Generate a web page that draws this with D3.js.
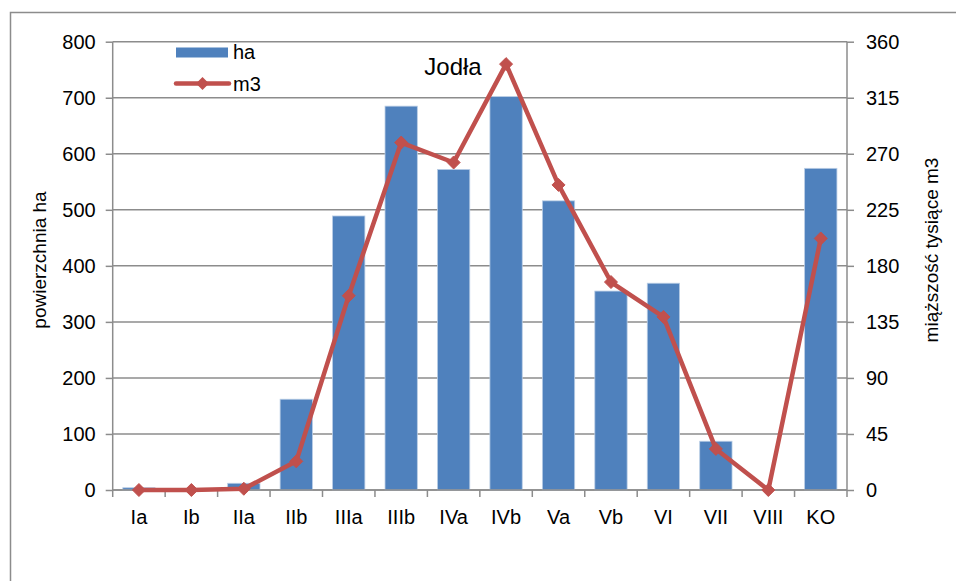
<!DOCTYPE html>
<html>
<head>
<meta charset="utf-8">
<script src="https://cdn.jsdelivr.net/npm/d3@7"></script>
<style>
  body { margin: 0; background: #fff; }
  text { font-family: "Liberation Sans", Arial, sans-serif; fill: #000; }
</style>
</head>
<body>
<div id="chart"></div>
<script>
// categories (age classes) and the two series
var categories = ["Ia", "Ib", "IIa", "IIb", "IIIa", "IIIb", "IVa", "IVb", "Va", "Vb", "VI", "VII", "VIII", "KO"];
var haValues = [4, 0, 12, 162, 489, 685, 572, 702, 516, 355, 369, 87, 0, 574];
var m3Values = [0, 0, 1, 23, 156, 279, 263, 342, 245, 167, 139, 33, 0, 202];
var leftTicks = [0, 100, 200, 300, 400, 500, 600, 700, 800];
var rightTicks = [0, 45, 90, 135, 180, 225, 270, 315, 360];

var W = 956, H = 581;
var margin = {top: 41.7, right: 109, bottom: 91, left: 112.7};
var width = W - margin.left - margin.right,
    height = H - margin.top - margin.bottom;

var svg = d3.select("#chart").append("svg")
  .attr("width", W).attr("height", H);

// outer chart frame
svg.append("rect")
  .attr("x", 10.5).attr("y", 12.5)
  .attr("width", W + 20).attr("height", H + 20)
  .attr("fill", "none").attr("stroke", "#8c8c8c").attr("stroke-width", 1.5);

var g = svg.append("g")
  .attr("transform", "translate(" + margin.left + "," + margin.top + ")");

var x = d3.scaleBand().domain(categories).range([0, width]).paddingInner(0.384).paddingOuter(0.192);
var xEdge = d3.scaleLinear().domain([0, categories.length]).range([0, width]);
var y = d3.scaleLinear().domain([0, 800]).range([height, 0]);
var y2 = d3.scaleLinear().domain([0, 360]).range([height, 0]);

// gridlines
g.selectAll(".grid").data(leftTicks).enter().append("line")
  .attr("x1", 0).attr("x2", width)
  .attr("y1", function(d) { return y(d); })
  .attr("y2", function(d) { return y(d); })
  .attr("stroke", "#8c8c8c").attr("stroke-width", 1.5);

// bars
g.selectAll(".bar").data(haValues).enter().append("rect")
  .attr("x", function(d, i) { return x(categories[i]); })
  .attr("width", x.bandwidth())
  .attr("y", function(d) { return y(d); })
  .attr("height", function(d) { return height - y(d); })
  .attr("fill", "#4f81bd")
  .attr("stroke", "#b9cde5").attr("stroke-width", 0.8);

// left axis
var yAxis = d3.axisLeft(y).tickValues(leftTicks).tickSize(7).tickPadding(10);
var ya = g.append("g").call(yAxis);
ya.select(".domain").attr("stroke", "#8c8c8c").attr("stroke-width", 1.5).attr("d", "M0,0V" + height);
ya.selectAll(".tick line").attr("stroke", "#8c8c8c").attr("stroke-width", 1.5);
ya.selectAll("text").style("font-size", "20px").attr("font-family", null);

// right axis
var yAxis2 = d3.axisRight(y2).tickValues(rightTicks).tickSize(7).tickPadding(12);
var yb = g.append("g").attr("transform", "translate(" + width + ",0)").call(yAxis2);
yb.select(".domain").attr("stroke", "#8c8c8c").attr("stroke-width", 1.5).attr("d", "M0,0V" + height);
yb.selectAll(".tick line").attr("stroke", "#8c8c8c").attr("stroke-width", 1.5);
yb.selectAll("text").style("font-size", "20px").attr("font-family", null);

// bottom axis: ticks between categories
var xb = g.append("g").attr("transform", "translate(0," + height + ")");
xb.append("line").attr("x1", 0).attr("x2", width)
  .attr("stroke", "#8c8c8c").attr("stroke-width", 1.5);
xb.selectAll(".xt").data(d3.range(categories.length + 1)).enter().append("line")
  .attr("x1", function(d) { return xEdge(d); })
  .attr("x2", function(d) { return xEdge(d); })
  .attr("y1", 0).attr("y2", 7)
  .attr("stroke", "#8c8c8c").attr("stroke-width", 1.5);
xb.selectAll(".xl").data(categories).enter().append("text")
  .attr("x", function(d) { return x(d) + x.bandwidth() / 2; })
  .attr("y", 34)
  .attr("text-anchor", "middle")
  .style("font-size", "20px")
  .text(function(d) { return d; });

// m3 line
var line = d3.line()
  .x(function(d, i) { return x(categories[i]) + x.bandwidth() / 2; })
  .y(function(d) { return y2(d); });
g.append("path").datum(m3Values)
  .attr("d", line)
  .attr("fill", "none").attr("stroke", "#c0504d").attr("stroke-width", 4.5)
  .attr("stroke-linejoin", "round");

// square diamond marker like Excel's
var diamond = "M0,-6.5L6.5,0L0,6.5L-6.5,0Z";
g.selectAll(".pt").data(m3Values).enter().append("path")
  .attr("d", diamond)
  .attr("transform", function(d, i) {
    return "translate(" + (x(categories[i]) + x.bandwidth() / 2) + "," + y2(d) + ")";
  })
  .attr("fill", "#c0504d").attr("stroke", "#c0504d").attr("stroke-width", 1);

// axis titles
svg.append("text")
  .attr("transform", "translate(46,260) rotate(-90)")
  .attr("text-anchor", "middle")
  .style("font-size", "19px")
  .text("powierzchnia ha");
svg.append("text")
  .attr("transform", "translate(938,250) rotate(-90)")
  .attr("text-anchor", "middle")
  .style("font-size", "19px")
  .text("miąższość tysiące m3");

// chart title
svg.append("text")
  .attr("x", 453).attr("y", 75)
  .attr("text-anchor", "middle")
  .style("font-size", "24px")
  .text("Jodła");

// legend
var legend = svg.append("g");
legend.append("rect")
  .attr("x", 176).attr("y", 47.5).attr("width", 52).attr("height", 10)
  .attr("fill", "#4f81bd");
legend.append("text").attr("x", 233).attr("y", 59).style("font-size", "20px").text("ha");
legend.append("line")
  .attr("x1", 176).attr("x2", 229).attr("y1", 83.5).attr("y2", 83.5)
  .attr("stroke", "#c0504d").attr("stroke-width", 4.5).attr("stroke-linecap", "round");
legend.append("path").attr("d", diamond)
  .attr("transform", "translate(202.5,83.5)")
  .attr("fill", "#c0504d");
legend.append("text").attr("x", 233).attr("y", 91).style("font-size", "20px").text("m3");
</script>
</body>
</html>
